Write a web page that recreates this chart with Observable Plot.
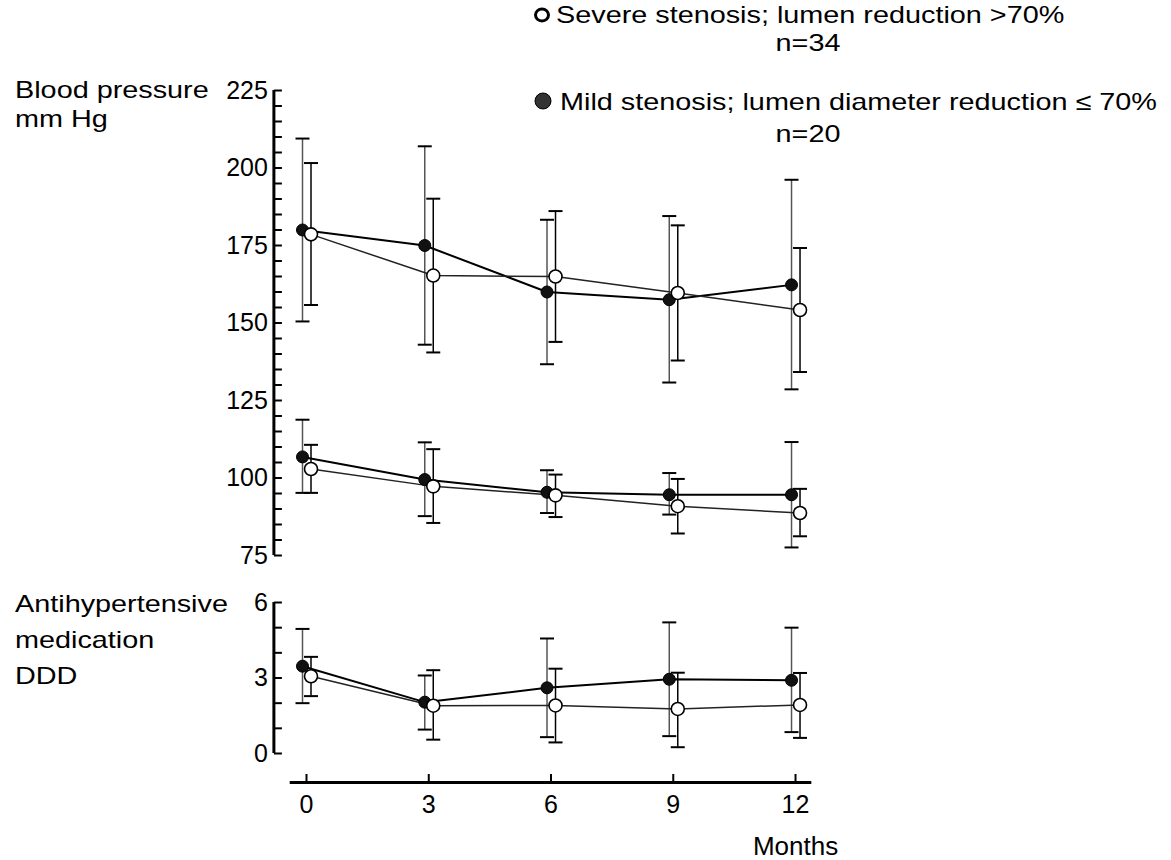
<!DOCTYPE html>
<html><head><meta charset="utf-8">
<script src="https://cdn.jsdelivr.net/npm/d3@7"></script>
<script src="https://cdn.jsdelivr.net/npm/@observablehq/plot@0.6"></script>
<style>
body{margin:0;background:#fff;font-family:"Liberation Sans",Arial,sans-serif;}
#wrap{position:relative;width:1171px;height:860px;overflow:hidden;background:#fff;}
.lab{position:absolute;font-size:24px;color:#000;white-space:nowrap;line-height:24px;transform-origin:0 50%;}
.plotbox{position:absolute;left:0;}
</style></head><body><div id="wrap"></div>
<script>
// ---- data ----
const months = [0, 3, 6, 9, 12];
const groups = ["Mild", "Severe"];
// systolic blood pressure (mm Hg)
const sysMild = [180, 175, 160, 157.5, 162.3];
const sysMildHi = [209.5, 207, 183.3, 184.5, 196.2];
const sysMildLo = [150.5, 143, 136.7, 130.8, 128.6];
const sysSevere = [178.6, 165.3, 165, 159.7, 154.2];
const sysSevereHi = [201.6, 190.1, 186.1, 181.5, 174.2];
const sysSevereLo = [155.8, 140.5, 143.9, 137.9, 134.2];
// diastolic blood pressure (mm Hg)
const diaMild = [106.8, 99.5, 95.4, 94.6, 94.6];
const diaMildHi = [118.8, 111.5, 102.5, 101.6, 111.6];
const diaMildLo = [95.2, 87.7, 88.7, 88.2, 77.6];
const diaSevere = [102.9, 97.3, 94.4, 90.9, 88.7];
const diaSevereHi = [110.7, 109.3, 101.1, 99.7, 96.5];
const diaSevereLo = [95.2, 85.5, 87.4, 82.1, 81.2];
// antihypertensive medication (DDD)
const medMild = [3.47, 2.04, 2.61, 2.95, 2.91];
const medMildHi = [4.95, 3.1, 4.57, 5.21, 5.0];
const medMildLo = [2.0, 0.95, 0.65, 0.69, 0.85];
const medSevere = [3.07, 1.9, 1.91, 1.77, 1.93];
const medSevereHi = [3.84, 3.31, 3.37, 3.21, 3.2];
const medSevereLo = [2.28, 0.55, 0.44, 0.25, 0.62];
// axis ticks
const bpTickLabels = [75, 100, 125, 150, 175, 200, 225];
const bpMinorTicks = d3.range(75, 226, 5);
const medTickLabels = [0, 3, 6];
const medMinorTicks = [0, 1, 2, 3, 4, 5, 6];
const xDomain = [-0.8, 12.5];
const xAxisExtent = [-0.4, 12.4];

// ---- build tables ----
function rows(measure, series) {
  const out = [];
  for (const g of groups) {
    const [m, hi, lo] = series[g];
    months.forEach((mo, i) => out.push({month: mo, measure, group: g, mean: m[i], hi: hi[i], lo: lo[i]}));
  }
  return out;
}
const bpRows = rows("sys", {Mild: [sysMild, sysMildHi, sysMildLo], Severe: [sysSevere, sysSevereHi, sysSevereLo]})
  .concat(rows("dia", {Mild: [diaMild, diaMildHi, diaMildLo], Severe: [diaSevere, diaSevereHi, diaSevereLo]}));
const medRows = rows("med", {Mild: [medMild, medMildHi, medMildLo], Severe: [medSevere, medSevereHi, medSevereLo]});

const FONT = "Liberation Sans, Arial, sans-serif";
const tickRight = {draw(ctx) { ctx.moveTo(0, 0); ctx.lineTo(8, 0); }};
const capSym = {draw(ctx) { ctx.moveTo(-7, 0); ctx.lineTo(7, 0); }};
const gdx = {Mild: -4, Severe: 4.5};

function seriesMarks(data) {
  const marks = [];
  for (const g of groups) {
    const d = data.filter(r => r.group === g);
    const dx = gdx[g];
    marks.push(Plot.ruleX(d, {x: "month", y1: "lo", y2: "hi", dx, stroke: g === "Mild" ? "#555" : "#000", strokeWidth: 1.5}));
    marks.push(Plot.dot(d, {x: "month", y: "hi", dx, symbol: capSym, fill: "none", stroke: "#000", strokeWidth: 2}));
    marks.push(Plot.dot(d, {x: "month", y: "lo", dx, symbol: capSym, fill: "none", stroke: "#000", strokeWidth: 2}));
  }
  for (const g of groups) {
    const d = data.filter(r => r.group === g);
    marks.push(Plot.line(d, {x: "month", y: "mean", z: "measure", dx: gdx[g], stroke: g === "Mild" ? "#000" : "#222", strokeWidth: g === "Mild" ? 2 : 1.5}));
  }
  const mild = data.filter(r => r.group === "Mild");
  const sev = data.filter(r => r.group === "Severe");
  marks.push(Plot.dot(mild, {x: "month", y: "mean", dx: gdx.Mild, r: 6, fill: "#111", stroke: "#000", strokeWidth: 1}));
  marks.push(Plot.dot(sev, {x: "month", y: "mean", dx: gdx.Severe, r: 6.5, fill: "#fff", stroke: "#000", strokeWidth: 1.6}));
  return marks;
}

function yAxisMarks(labels, minor) {
  return [
    Plot.ruleX([xDomain[0]], {stroke: "#000", strokeWidth: 3}),
    Plot.dot(minor, {y: d => d, frameAnchor: "left", symbol: tickRight, fill: "none", stroke: "#000", strokeWidth: 2}),
    Plot.text(labels, {y: d => d, frameAnchor: "left", text: d => String(d), textAnchor: "end", dx: -6, fontSize: 25, fontFamily: FONT, fill: "#000"})
  ];
}

const W = 880;
const wrap = document.getElementById("wrap");

function place(svg, top) {
  const box = document.createElement("div");
  box.className = "plotbox";
  box.style.top = top + "px";
  box.appendChild(svg);
  wrap.appendChild(box);
}

// BP panel: y(225)=90, y(75)=555
const bp = Plot.plot({
  width: W, height: 570,
  marginLeft: 273.4, marginRight: W - 815.4, marginTop: 90, marginBottom: 15,
  style: {background: "transparent", overflow: "visible"},
  x: {domain: xDomain, axis: null},
  y: {domain: [75, 225], axis: null},
  marks: [...yAxisMarks(bpTickLabels, bpMinorTicks), ...seriesMarks(bpRows)]
});
place(bp, 0);

// Medication panel: y(6)=602, y(0)=753
const med = Plot.plot({
  width: W, height: 190,
  marginLeft: 273.4, marginRight: W - 815.4, marginTop: 32, marginBottom: 7,
  style: {background: "transparent", overflow: "visible"},
  x: {domain: xDomain, axis: null},
  y: {domain: [0, 6], axis: null},
  marks: [...yAxisMarks(medTickLabels, medMinorTicks), ...seriesMarks(medRows)]
});
place(med, 570);

// X axis: line at y=782
const xa = Plot.plot({
  width: W, height: 100,
  marginLeft: 273.4, marginRight: W - 815.4, marginTop: 14, marginBottom: 78,
  style: {background: "transparent", overflow: "visible"},
  x: {domain: xDomain, axis: null},
  y: {domain: [0, 1], axis: null},
  marks: [
    Plot.ruleY([0], {x1: xAxisExtent[0], x2: xAxisExtent[1], stroke: "#000", strokeWidth: 3}),
    Plot.ruleX(months, {x: d => d, y1: 0, y2: 1, stroke: "#000", strokeWidth: 2}),
    Plot.text(months, {x: d => d, y: 0, text: d => String(d), dy: 22, fontSize: 25, fontFamily: FONT, fill: "#000"}),
    Plot.text(["Months"], {x: months[months.length - 1], y: 0, text: d => d, dy: 64, fontSize: 26, fontFamily: FONT, fill: "#000"})
  ]
});
place(xa, 760);

// ---- text labels & legend ----
const SX = 1.2;
function label(text, x, yc, anchor) {
  const d = document.createElement("div");
  d.className = "lab";
  d.textContent = text;
  d.style.top = (yc - 12) + "px";
  d.style.left = x + "px";
  if (anchor === "middle") d.style.transform = `translateX(-50%) scaleX(${SX})`, d.style.transformOrigin = "50% 50%";
  else d.style.transform = `scaleX(${SX})`;
  wrap.appendChild(d);
}
label("Blood pressure", 15, 90);
label("mm Hg", 15, 119);
label("Antihypertensive", 15, 604);
label("medication", 15, 640);
label("DDD", 15, 676);
label("Severe stenosis; lumen reduction >70%", 556, 15);
label("n=34", 808, 43, "middle");
label("Mild stenosis; lumen diameter reduction \u2264 70%", 560, 102);
label("n=20", 808, 134, "middle");

const leg = d3.select(wrap).append("svg")
  .style("position", "absolute").style("left", "0px").style("top", "0px")
  .attr("width", 600).attr("height", 130);
leg.append("ellipse").attr("cx", 542).attr("cy", 15).attr("rx", 6.5).attr("ry", 6).attr("fill", "#fff").attr("stroke", "#000").attr("stroke-width", 3);
leg.append("circle").attr("cx", 543).attr("cy", 101).attr("r", 8).attr("fill", "#333").attr("stroke", "#000").attr("stroke-width", 1);
</script>
</body></html>
